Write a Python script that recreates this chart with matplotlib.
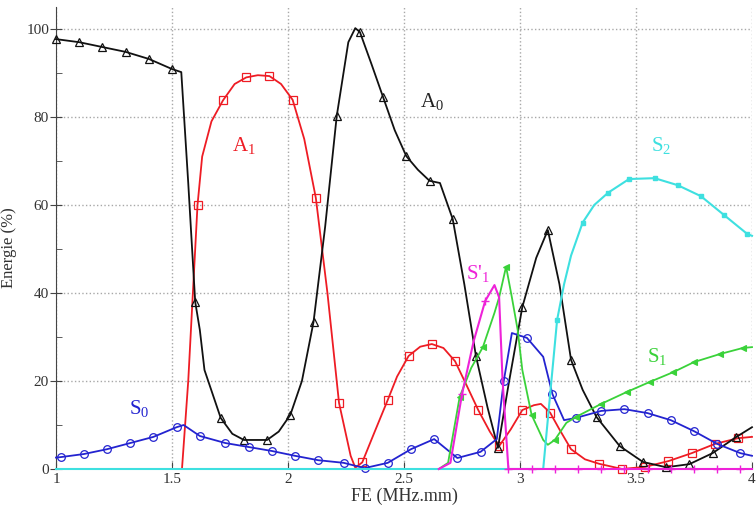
import numpy as np
import matplotlib
matplotlib.use("Agg")
import matplotlib.pyplot as plt
from matplotlib.ticker import MultipleLocator

plt.rcParams['font.family'] = ['Liberation Serif', 'DejaVu Serif']
plt.rcParams['mathtext.fontset'] = 'custom'
plt.rcParams['mathtext.rm'] = 'Liberation Serif'
plt.rcParams['mathtext.it'] = 'Liberation Serif:italic'
plt.rcParams['mathtext.default'] = 'regular'

# A0 (black, open triangles)
a0_x = [1.0, 1.1, 1.2, 1.3, 1.4, 1.5, 1.54, 1.57, 1.60, 1.62, 1.64, 1.71, 1.76, 1.81,
        1.91, 1.96, 2.01, 2.06, 2.11, 2.16, 2.21, 2.26, 2.29, 2.31, 2.36, 2.41, 2.46,
        2.51, 2.56, 2.61, 2.655, 2.71, 2.76, 2.81, 2.86, 2.905, 2.95, 3.01, 3.07, 3.12,
        3.17, 3.22, 3.27, 3.33, 3.43, 3.53, 3.63, 3.73, 3.83, 3.93, 4.0]
a0_y = [97.7, 97.0, 95.9, 94.8, 93.2, 90.9, 90.2, 65, 38, 31.6, 22.5, 11.6, 8, 6.6,
        6.6, 8.5, 12.3, 20, 33.4, 55, 80.2, 97, 100.2, 99.3, 92, 84.5, 77,
        71.1, 68, 65.5, 65, 56.8, 42, 25.7, 14, 4.8, 19, 36.8, 48, 54.3,
        42, 24.8, 18, 11.8, 5.2, 1.6, 0.4, 1.1, 3.6, 7.2, 9.5]
a0_mk = [0, 1, 2, 3, 4, 5, 8, 11, 13, 14, 16, 18, 20, 23, 25, 27, 29, 31, 33, 35, 37,
         39, 41, 43, 44, 45, 46, 47, 48, 49]

# A1 (red, open squares)
a1_x = [1.0, 1.543, 1.57, 1.61, 1.63, 1.67, 1.72, 1.77, 1.82, 1.87, 1.92, 1.97, 2.02,
        2.07, 2.12, 2.17, 2.22, 2.27, 2.29, 2.32, 2.37, 2.43, 2.47, 2.52, 2.57, 2.62,
        2.67, 2.72, 2.77, 2.82, 2.87, 2.91, 2.96, 3.01, 3.06, 3.09, 3.13, 3.17, 3.22,
        3.28, 3.34, 3.44, 3.54, 3.64, 3.74, 3.84, 3.94, 4.0]
a1_y = [0, 0, 20, 60, 71, 79, 83.8, 87.5, 89, 89.5, 89.3, 87.5, 83.9,
        75, 61.6, 40, 15, 3, 0.3, 1.5, 8, 15.7, 21, 25.7, 27.8, 28.4,
        27.5, 24.5, 19, 13.4, 8.5, 5.2, 9, 13.4, 14.5, 14.8, 12.8, 9, 4.5,
        2.2, 1.2, 0, 0.5, 1.8, 3.6, 5.7, 7, 7.3]
a1_mk = [3, 6, 8, 10, 12, 14, 16, 19, 21, 23, 25, 27, 29, 31, 33, 36, 38, 40, 41, 42,
         43, 44, 45, 46]

# S0 (blue, open circles)
s0_x = [1.0, 1.02, 1.12, 1.22, 1.32, 1.42, 1.52, 1.55, 1.62, 1.73, 1.83, 1.93, 2.03,
        2.13, 2.24, 2.33, 2.43, 2.53, 2.63, 2.73, 2.83, 2.90, 2.93, 2.965, 3.03, 3.10,
        3.14, 3.19, 3.24, 3.35, 3.45, 3.55, 3.65, 3.75, 3.85, 3.95, 4.0]
s0_y = [2.6, 2.7, 3.4, 4.5, 5.9, 7.3, 9.5, 10, 7.5, 5.9, 5.0, 4.1, 3.0,
        2.0, 1.4, 0.2, 1.4, 4.5, 6.8, 2.5, 3.9, 6.8, 20, 30.9, 29.8, 25.5,
        17, 11.1, 11.6, 13.2, 13.6, 12.7, 11.1, 8.6, 5.7, 3.6, 3.0]
s0_mk = [1, 2, 3, 4, 5, 6, 8, 9, 10, 11, 12, 13, 14, 15, 16, 17, 18, 19, 20, 22, 24,
         26, 28, 29, 30, 31, 32, 33, 34, 35]

# S1 (green, filled triangles)
s1_x = [2.65, 2.69, 2.74, 2.79, 2.84, 2.89, 2.91, 2.94, 2.965, 2.99, 3.01, 3.05, 3.10,
        3.12, 3.15, 3.20, 3.24, 3.35, 3.46, 3.56, 3.66, 3.75, 3.86, 3.96, 4.0]
s1_y = [0, 1.4, 16.4, 23, 27.7, 35.5, 39, 46, 39, 31.6, 22.5, 12.3, 6.6,
        5.5, 6.6, 10.5, 11.8, 14.8, 17.5, 19.8, 22, 24.3, 26.1, 27.5, 27.7]
s1_mk = [2, 4, 7, 11, 14, 16, 17, 18, 19, 20, 21, 22, 23]

# S2 (cyan, small filled squares)
s2_x = [1.0, 3.10, 3.13, 3.16, 3.19, 3.22, 3.27, 3.32, 3.38, 3.47, 3.58, 3.68, 3.78,
        3.88, 3.98, 4.0]
s2_y = [0, 0, 17, 33.9, 42, 48.5, 56, 60, 62.8, 65.9, 66.1, 64.5, 62,
        57.7, 53.4, 53]
s2_mk = [3, 6, 8, 9, 10, 11, 12, 13, 14]

# S'1 (magenta, plus)
sp1_x = [2.65, 2.70, 2.75, 2.80, 2.85, 2.89, 2.91, 2.925, 2.95, 3.05, 3.15, 3.25, 3.35,
         3.45, 3.55, 3.65, 3.75, 3.85, 3.95, 4.0]
sp1_y = [0, 1.4, 17, 29, 38.2, 41.8, 39, 20, 0, 0, 0, 0, 0,
         0, 0, 0, 0, 0, 0, 0]
sp1_mk = [2, 4, 8, 9, 10, 11, 12, 13, 14, 15, 16, 17, 18]

fig = plt.figure(figsize=(7.56, 5.14), dpi=100)
ax = fig.add_axes([56 / 756, 45 / 514, 696 / 756, 462 / 514])

ax.plot(a1_x, a1_y, color='#ee1c24', lw=1.3, marker='s', ms=5.5, mfc='none',
        mew=0.9, markevery=a1_mk, clip_on=False, zorder=3)
ax.plot(a0_x, a0_y, color='#111111', lw=1.3, marker='^', ms=6, mfc='none',
        mew=0.9, markevery=a0_mk, clip_on=False, zorder=3)
ax.plot(s0_x, s0_y, color='#2323d0', lw=1.3, marker='o', ms=5.5, mfc='none',
        mew=0.9, markevery=s0_mk, clip_on=False, zorder=3)
ax.plot(s1_x, s1_y, color='#3ad23a', lw=1.3, marker='<', ms=5, mfc='#3ad23a',
        mew=0.8, markevery=s1_mk, clip_on=False, zorder=3)
ax.plot(s2_x, s2_y, color='#3ee0e0', lw=1.5, marker='s', ms=3.2, mfc='#3ee0e0',
        markevery=s2_mk, clip_on=False, zorder=3)
ax.plot(sp1_x, sp1_y, color='#ee22d8', lw=1.5, marker='+', ms=6, mew=1.0,
        markevery=sp1_mk, clip_on=False, zorder=3)

lbl_kw = dict(ha='center', va='center', fontsize=15)
ax.text(2.62, 83.5, r'A$_0$', color='#222222', **lbl_kw)
ax.text(1.81, 73.5, r'A$_1$', color='#ee1c24', **lbl_kw)
ax.text(1.36, 13.8, r'S$_0$', color='#2323d0', **lbl_kw)
ax.text(3.61, 73.5, r'S$_2$', color='#3ee0e0', **lbl_kw)
ax.text(3.59, 25.5, r'S$_1$', color='#3ad23a', **lbl_kw)
ax.text(2.82, 44.5, r"S'$_1$", color='#ee22d8', **lbl_kw)

ax.set_xlim(1, 4)
ax.set_ylim(0, 105)
ax.yaxis.set_major_locator(MultipleLocator(20))
ax.yaxis.set_minor_locator(MultipleLocator(10))
ax.set_xticks([1, 1.5, 2, 2.5, 3, 3.5, 4])
ax.set_xticklabels(['1', '1.5', '2', '2.5', '3', '3.5', '4'])

ax.grid(True, which='major', linestyle=':', color='#a8a8a8', lw=1.0)
for s in ['top', 'right', 'bottom']:
    ax.spines[s].set_visible(False)
ax.spines['left'].set_color('#444444')
ax.tick_params(axis='both', which='major', labelsize=11, colors='#444444',
               labelcolor='#333333', direction='in', length=5, pad=3)
ax.tick_params(axis='y', which='minor', direction='in', length=4, colors='#444444')
ax.tick_params(axis='y', which='major', direction='inout', length=8, pad=1)

ax.set_xlabel('FE (MHz.mm)', fontsize=13, color='#333333', labelpad=1)
ax.set_ylabel('Energie (%)', fontsize=12, color='#333333')
ax.yaxis.set_label_coords(-0.056, 0.48)

fig.savefig('out.png', dpi=100)
